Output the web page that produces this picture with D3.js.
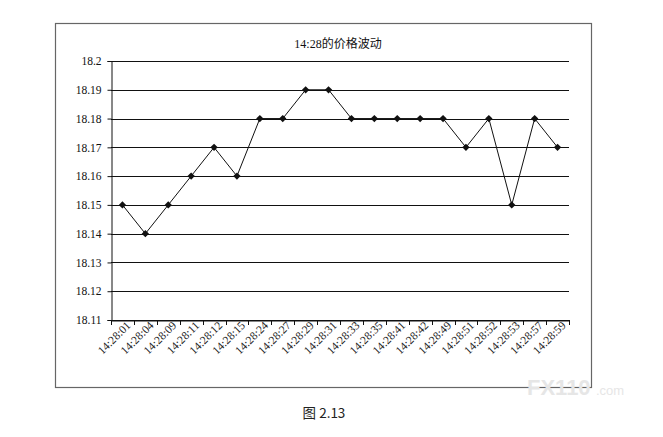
<!DOCTYPE html>
<html><head><meta charset="utf-8">
<script src="https://cdn.jsdelivr.net/npm/d3@7"></script>
<style>body{margin:0;background:#fff}</style>
</head><body>
<svg id="c" width="663" height="437"></svg>
<script>
const categories = ["14:28:01","14:28:04","14:28:09","14:28:11","14:28:12","14:28:15","14:28:24","14:28:27","14:28:29","14:28:31","14:28:33","14:28:35","14:28:41","14:28:42","14:28:49","14:28:51","14:28:52","14:28:53","14:28:57","14:28:59"];
const prices = [18.15,18.14,18.15,18.16,18.17,18.16,18.18,18.18,18.19,18.19,18.18,18.18,18.18,18.18,18.18,18.17,18.18,18.15,18.18,18.17];
const yTicks = [18.11,18.12,18.13,18.14,18.15,18.16,18.17,18.18,18.19,18.2];
const title = "14:28的价格波动";
const caption = "图 2.13";

const SERIF = '"Liberation Serif", "Noto Sans CJK SC", serif';
const svg = d3.select("#c");
const m = {l:111, r:569, t:61, b:320};

svg.append("rect").attr("x",55.5).attr("y",23.5).attr("width",536).attr("height",364)
  .attr("fill","none").attr("stroke","#666").attr("stroke-width",1.2);

const x = d3.scaleBand().domain(categories).range([m.l, m.r]);
const y = d3.scaleLinear().domain([18.11, 18.2]).range([m.b, m.t]);

svg.append("g").selectAll("line").data(yTicks).join("line")
  .attr("x1", m.l).attr("x2", m.r)
  .attr("y1", d => Math.round(y(d))+0.5).attr("y2", d => Math.round(y(d))+0.5)
  .attr("stroke","#111").attr("stroke-width",1);

const ya = svg.append("g").attr("transform",`translate(${m.l+0.5},0)`)
  .call(d3.axisLeft(y).tickValues(yTicks).tickSize(4).tickPadding(6).tickFormat(d3.format("~g")));
ya.select(".domain").attr("stroke","#111");
ya.selectAll("line").attr("stroke","#111");
ya.selectAll("text").style("font-family",SERIF).style("font-size","11.5px").attr("fill","#111");

const xa = svg.append("g").attr("transform",`translate(0,${m.b+0.5})`)
  .call(d3.axisBottom(x).tickSize(0).tickPadding(4));
xa.select(".domain").attr("stroke","#111");
xa.selectAll("text").style("font-family",SERIF).style("font-size","11.5px").attr("fill","#222")
  .attr("text-anchor","end").attr("dx","0.2em").attr("dy","0.55em")
  .attr("transform","rotate(-45)");
const bounds = categories.map(c => x(c)).concat([m.r]);
svg.append("g").selectAll("line").data(bounds).join("line")
  .attr("x1", d => Math.round(d)+0.5).attr("x2", d => Math.round(d)+0.5)
  .attr("y1", m.b).attr("y2", m.b+5).attr("stroke","#111");

const line = d3.line().x((d,i) => x(categories[i]) + x.bandwidth()/2).y(d => y(d));
svg.append("path").datum(prices).attr("d", line).attr("fill","none").attr("stroke","#111").attr("stroke-width",1);

svg.append("g").selectAll("path").data(prices).join("path")
  .attr("d", d3.symbol(d3.symbolDiamond2, 34))
  .attr("transform",(d,i) => `translate(${x(categories[i]) + x.bandwidth()/2},${y(d)})`)
  .attr("fill","#111");

svg.append("text").attr("x",338).attr("y",48).attr("text-anchor","middle")
  .style("font-family",SERIF).style("font-size","12px").attr("fill","#111").text(title);

svg.append("text").attr("x",324).attr("y",418).attr("text-anchor","middle")
  .style("font-family",'"Noto Sans CJK SC", "Noto Sans", sans-serif').style("font-size","13.5px").attr("fill","#222").text(caption);

svg.append("text").attr("x",527).attr("y",395).style("font-family",'"Liberation Sans", sans-serif')
  .style("font-size","22px").attr("font-weight","bold").attr("fill","#e6e6e6").text("FX110");
svg.append("text").attr("x",596).attr("y",395).style("font-family",'"Liberation Sans", sans-serif')
  .style("font-size","13px").attr("fill","#e6e6e6").text(".com");
</script>
</body></html>
